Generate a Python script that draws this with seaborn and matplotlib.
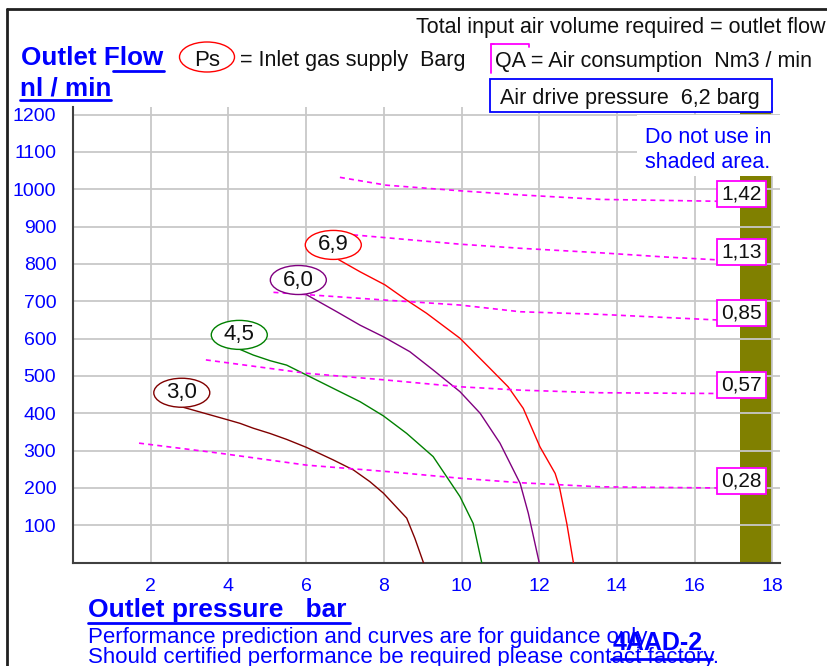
import numpy as np
import pandas as pd
import seaborn as sns
import matplotlib
matplotlib.use('Agg')
import matplotlib.pyplot as plt
from matplotlib.patches import Ellipse, Rectangle
from matplotlib.lines import Line2D

# Outlet flow curves (outlet pressure bar -> outlet flow nl/min), one per inlet supply Ps
ps_labels = ['3,0', '4,5', '6,0', '6,9']
ps_colors = ['#800000', '#008000', '#800080', '#FF0000']
ps_x = [
    [2.84, 4.00, 4.30, 4.64, 5.07, 5.50, 6.00, 6.70, 7.22, 7.64, 7.99, 8.59, 8.80, 9.02],
    [4.30, 4.64, 5.07, 5.50, 6.00, 6.79, 7.39, 7.99, 8.59, 9.27, 9.96, 10.30, 10.52],
    [5.97, 6.79, 7.39, 7.99, 8.67, 9.27, 9.96, 10.48, 10.99, 11.51, 11.72, 12.00],
    [6.83, 7.39, 8.03, 8.59, 9.10, 9.96, 10.65, 11.20, 11.59, 12.02, 12.41, 12.52, 12.71, 12.88],
]
ps_y = [
    [416, 382, 373, 360, 346, 330, 309, 275, 248, 217, 186, 119, 65, 0],
    [571, 556, 541, 529, 503, 462, 431, 393, 346, 284, 177, 105, 0],
    [720, 672, 636, 605, 565, 516, 458, 400, 320, 212, 132, 0],
    [812, 779, 744, 703, 668, 601, 529, 471, 413, 310, 239, 203, 105, 0],
]
ps_label_pos = [(2.80, 455), (4.28, 610), (5.80, 757), (6.70, 851)]

# Air consumption lines QA (Nm3/min)
qa_labels = ['0,28', '0,57', '0,85', '1,13', '1,42']
qa_x = [
    [1.70, 3.78, 6.02, 8.07, 9.96, 11.51, 13.56, 16.58],
    [3.42, 6.02, 8.07, 9.96, 11.51, 13.56, 16.58],
    [5.16, 8.07, 9.96, 11.51, 13.56, 16.58],
    [7.21, 9.96, 11.51, 13.56, 15.19, 16.58],
    [6.87, 8.07, 9.96, 11.51, 13.56, 16.58],
]
qa_y = [
    [320, 293, 261, 244, 226, 214, 203, 200],
    [543, 507, 489, 471, 462, 455, 453],
    [724, 703, 690, 672, 665, 650],
    [878, 853, 842, 830, 819, 811],
    [1032, 1011, 996, 985, 973, 968],
]
qa_label_y = [219, 476, 669, 831, 987]

x_ticks = [2, 4, 6, 8, 10, 12, 14, 16, 18]
y_ticks = [100, 200, 300, 400, 500, 600, 700, 800, 900, 1000, 1100, 1200]
shade_from, shade_to = 17.18, 18.0

BLUE = '#0000FF'
MAGENTA = '#FF00FF'

sns.set_style('whitegrid')
plt.rcParams['font.family'] = ['Liberation Sans', 'DejaVu Sans']

W, H = 827, 666
fig = plt.figure(figsize=(W / 100, H / 100), dpi=100)


def fx(px):
    return px / W


def fy(py):
    return 1 - py / H


x_px = 38.85   # pixels per bar
y_px = 0.3733  # pixels per nl/min
ax = fig.add_axes([fx(73), fy(562.6), 18.2 * x_px / W, 1221 * y_px / H])
ax.set_xlim(0, 18.2)
ax.set_ylim(0, 1221)

# shaded "do not use" area
ax.axvspan(shade_from, shade_to, color='#808000', zorder=0.3, lw=0)

# Ps curves
for xs, ys, c in zip(ps_x, ps_y, ps_colors):
    d = pd.DataFrame({'p': xs, 'q': ys})
    sns.lineplot(data=d, x='p', y='q', color=c, lw=1.0, sort=False, estimator=None, ax=ax, zorder=3)

# QA dashed lines
for xs, ys in zip(qa_x, qa_y):
    d = pd.DataFrame({'p': xs, 'q': ys})
    sns.lineplot(data=d, x='p', y='q', color=MAGENTA, lw=1.2, sort=False, estimator=None,
                 ax=ax, zorder=3, linestyle=(0, (3, 2.5)))

# Ps ellipse labels
for (lx, ly), lab, c in zip(ps_label_pos, ps_labels, ps_colors):
    ax.add_patch(Ellipse((lx, ly), 56 / x_px, 29 / y_px, fc='white', ec=c, lw=1.0, zorder=4))
    ax.text(lx, ly, lab, ha='center', va='center', fontsize=16, color='#101010', zorder=5)

# QA value boxes
for ly, lab in zip(qa_label_y, qa_labels):
    bx = 17.21
    ax.add_patch(Rectangle((bx - 24.5 / x_px, ly - 13 / y_px), 49 / x_px, 26 / y_px,
                           fc='white', ec=MAGENTA, lw=1.3, zorder=4))
    ax.text(bx, ly, lab, ha='center', va='center', fontsize=15, color='#101010', zorder=5)

# "Do not use" note
ax.add_patch(Rectangle((14.52, 1036), 3.7, 163, fc='white', ec='none', zorder=2, clip_on=False))
ax.text(14.72, 1140, 'Do not use in', ha='left', va='center', fontsize=15.5, color=BLUE, zorder=5)
ax.text(14.72, 1073, 'shaded area.', ha='left', va='center', fontsize=15.5, color=BLUE, zorder=5)

ax.set_xticks(x_ticks)
ax.set_yticks(y_ticks)
ax.set_xticklabels([str(t) for t in x_ticks])
ax.set_yticklabels([str(t) for t in y_ticks])
ax.tick_params(axis='both', direction='out', length=6, width=1.3, color=BLUE,
               labelcolor=BLUE, labelsize=14)
ax.tick_params(axis='x', pad=5)
ax.tick_params(axis='y', pad=6)
ax.grid(True, color='#C8C8C8', lw=1.3)
ax.set_axisbelow(True)
ax.set_xlabel('')
ax.set_ylabel('')
for s in ['top', 'right']:
    ax.spines[s].set_visible(False)
for s in ['left', 'bottom']:
    ax.spines[s].set_color('#404040')
    ax.spines[s].set_linewidth(1.5)
ax.set_facecolor('white')

# frame of the sheet
fig.add_artist(Line2D([fx(7), 1], [fy(9), fy(9)], color='#202020', lw=2))
fig.add_artist(Line2D([fx(7), fx(7)], [fy(9), 0], color='#202020', lw=2))

# header texts
fig.text(fx(825), fy(33), 'Total input air volume required = outlet flow', ha='right', va='baseline',
         fontsize=15.5, color='#101010')
fig.text(fx(21), fy(65), 'Outlet Flow', ha='left', va='baseline', fontsize=18.7,
         fontweight='bold', color=BLUE)
fig.add_artist(Line2D([fx(113), fx(164)], [fy(71), fy(71)], color=BLUE, lw=2))
fig.text(fx(20), fy(95), 'nl / min', ha='left', va='baseline', fontsize=18.7,
         fontweight='bold', color=BLUE)
fig.add_artist(Line2D([fx(20), fx(111)], [fy(100), fy(100)], color=BLUE, lw=2))

fig.add_artist(Ellipse((fx(207), fy(57)), 55 / W, 30 / H, transform=fig.transFigure,
                       fc='none', ec='#FF0000', lw=1.0))
fig.text(fx(207), fy(66), 'Ps', ha='center', va='baseline', fontsize=16, color='#101010')
fig.text(fx(240), fy(66), '= Inlet gas supply  Barg', ha='left', va='baseline',
         fontsize=15.5, color='#101010')

fig.add_artist(Line2D([fx(491), fx(491), fx(494)], [fy(73), fy(44), fy(44)], color=MAGENTA, lw=1.3))
fig.add_artist(Line2D([fx(491), fx(529), fx(529)], [fy(44), fy(44), fy(47)], color=MAGENTA, lw=1.3))
fig.text(fx(495), fy(67), 'QA = Air consumption  Nm3 / min', ha='left', va='baseline',
         fontsize=15.5, color='#101010')

fig.add_artist(Rectangle((fx(490), fy(112)), (772 - 490) / W, (112 - 79) / H,
                         transform=fig.transFigure, fc='white', ec=BLUE, lw=1.3))
fig.text(fx(500), fy(104), 'Air drive pressure  6,2 barg', ha='left', va='baseline',
         fontsize=15.5, color='#101010')

# footer texts
fig.text(fx(88), fy(617), 'Outlet pressure   bar', ha='left', va='baseline', fontsize=19,
         fontweight='bold', color=BLUE)
fig.add_artist(Line2D([fx(88), fx(350)], [fy(623), fy(623)], color=BLUE, lw=2))
fig.text(fx(88), fy(643), 'Performance prediction and curves are for guidance only.',
         ha='left', va='baseline', fontsize=16, color=BLUE)
fig.text(fx(88), fy(663), 'Should certified performance be required please contact factory.',
         ha='left', va='baseline', fontsize=16, color=BLUE)
fig.text(fx(613), fy(650), '4AAD-2', ha='left', va='baseline', fontsize=18,
         fontweight='bold', color=BLUE)
fig.add_artist(Line2D([fx(611), fx(712)], [fy(659), fy(659)], color=BLUE, lw=2))

fig.savefig('out.png', dpi=100, facecolor='white')
